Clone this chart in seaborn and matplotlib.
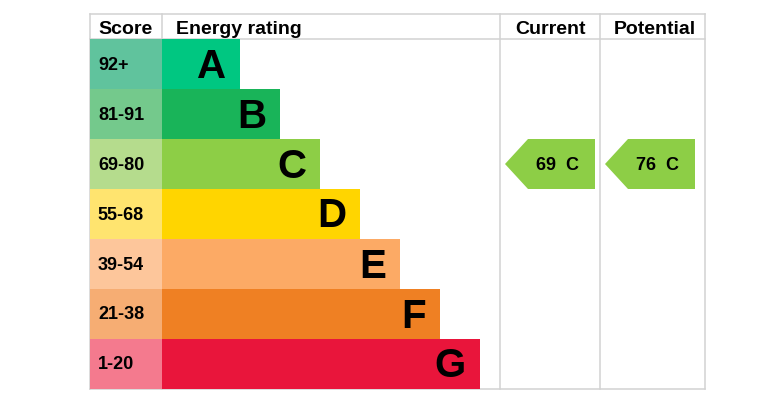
import matplotlib
matplotlib.use("Agg")
import matplotlib.pyplot as plt
import seaborn as sns
import pandas as pd
from matplotlib.patches import Polygon

# ---- data ----
bands = ["A", "B", "C", "D", "E", "F", "G"]
score_ranges = ["92+", "81-91", "69-80", "55-68", "39-54", "21-38", "1-20"]
band_min_score = [92, 81, 69, 55, 39, 21, 1]
bar_length = [78, 118, 158, 198, 238, 278, 318]
band_colors = ["#00c781", "#19b459", "#8dce46", "#ffd500", "#fcaa65", "#ef8023", "#e9153b"]
score_colors = ["#60c39d", "#74c98c", "#b5dc8d", "#ffe46f", "#fdc69b", "#f6ad73", "#f47a8e"]
current_score = 69
potential_score = 76
headers = ["Score", "Energy rating", "Current", "Potential"]

W, H = 759, 406
fig = plt.figure(figsize=(W / 100, H / 100), dpi=100)
plt.rcParams["font.family"] = ["Liberation Sans", "DejaVu Sans"]

# background / grid axes in pixel coordinates
ax = fig.add_axes([0, 0, 1, 1])
ax.set_xlim(0, W)
ax.set_ylim(H, 0)
ax.axis("off")

tbl_left, tbl_right, tbl_top, hdr_bottom, tbl_bottom = 90, 705, 15, 40, 390
col_score, col_cur, col_pot = 162, 500, 600
gc = "#d2d2d2"
lw = 1.1
ax.plot([tbl_left, tbl_right], [tbl_top, tbl_top], color=gc, lw=lw)
ax.plot([tbl_left, tbl_right], [hdr_bottom, hdr_bottom], color=gc, lw=lw)
ax.plot([tbl_left, tbl_right], [tbl_bottom, tbl_bottom], color=gc, lw=lw)
for xv in [tbl_left, col_score, col_cur, col_pot, tbl_right]:
    ax.plot([xv, xv], [tbl_top, tbl_bottom], color=gc, lw=lw)

hdr_base = 34.5
ax.text(98, hdr_base, headers[0], fontsize=14, fontweight="bold", ha="left", va="baseline")
ax.text(176, hdr_base, headers[1], fontsize=14, fontweight="bold", ha="left", va="baseline")
ax.text(550, hdr_base, headers[2], fontsize=14, fontweight="bold", ha="center", va="baseline")
ax.text(655, hdr_base, headers[3], fontsize=14, fontweight="bold", ha="center", va="baseline")

row_h = (tbl_bottom - hdr_bottom) / len(bands)

# score column
axs = fig.add_axes([tbl_left / W, (H - tbl_bottom) / H, (col_score - tbl_left) / W, (tbl_bottom - hdr_bottom) / H])
df_s = pd.DataFrame({"band": bands, "val": [1] * len(bands)})
sns.barplot(data=df_s, x="val", y="band", hue="band", palette=score_colors, width=1.0,
            saturation=1, linewidth=0, legend=False, ax=axs)
axs.set_xlim(0, 1)
axs.set_ylim(len(bands) - 0.5, -0.5)
axs.axis("off")
for i, s in enumerate(score_ranges):
    axs.text(0.11, i, s, fontsize=13, fontweight="bold", ha="left", va="center",
             transform=axs.transData)

# rating bars
bar_ax_w = W - col_score
axb = fig.add_axes([col_score / W, (H - tbl_bottom) / H, bar_ax_w / W, (tbl_bottom - hdr_bottom) / H])
axb.patch.set_alpha(0)
df_b = pd.DataFrame({"band": bands, "length": bar_length})
sns.barplot(data=df_b, x="length", y="band", hue="band", palette=band_colors, width=1.0,
            saturation=1, linewidth=0, legend=False, ax=axb)
axb.set_xlim(0, bar_ax_w)
axb.set_ylim(len(bands) - 0.5, -0.5)
axb.axis("off")
for i, (b, L) in enumerate(zip(bands, bar_length)):
    axb.text(L - 14, i + 0.03, b, fontsize=29, fontweight="bold", ha="right", va="center")


def band_index(score):
    for i, m in enumerate(band_min_score):
        if score >= m:
            return i
    return len(bands) - 1


def draw_arrow(score, x0):
    i = band_index(score)
    top = hdr_bottom + i * row_h
    bot = top + row_h
    mid = (top + bot) / 2
    tip = x0 + 5
    shoulder = x0 + 28
    right = x0 + 95
    poly = Polygon([[tip, mid], [shoulder, top], [right, top], [right, bot], [shoulder, bot]],
                   closed=True, facecolor=band_colors[i], edgecolor="none")
    ax.add_patch(poly)
    ax.text((shoulder + right) / 2 - 4, mid + 0.5, f"{score}  {bands[i]}", fontsize=13,
            fontweight="bold", ha="center", va="center")


draw_arrow(current_score, col_cur)
draw_arrow(potential_score, col_pot)

fig.savefig("out.png", dpi=100)
